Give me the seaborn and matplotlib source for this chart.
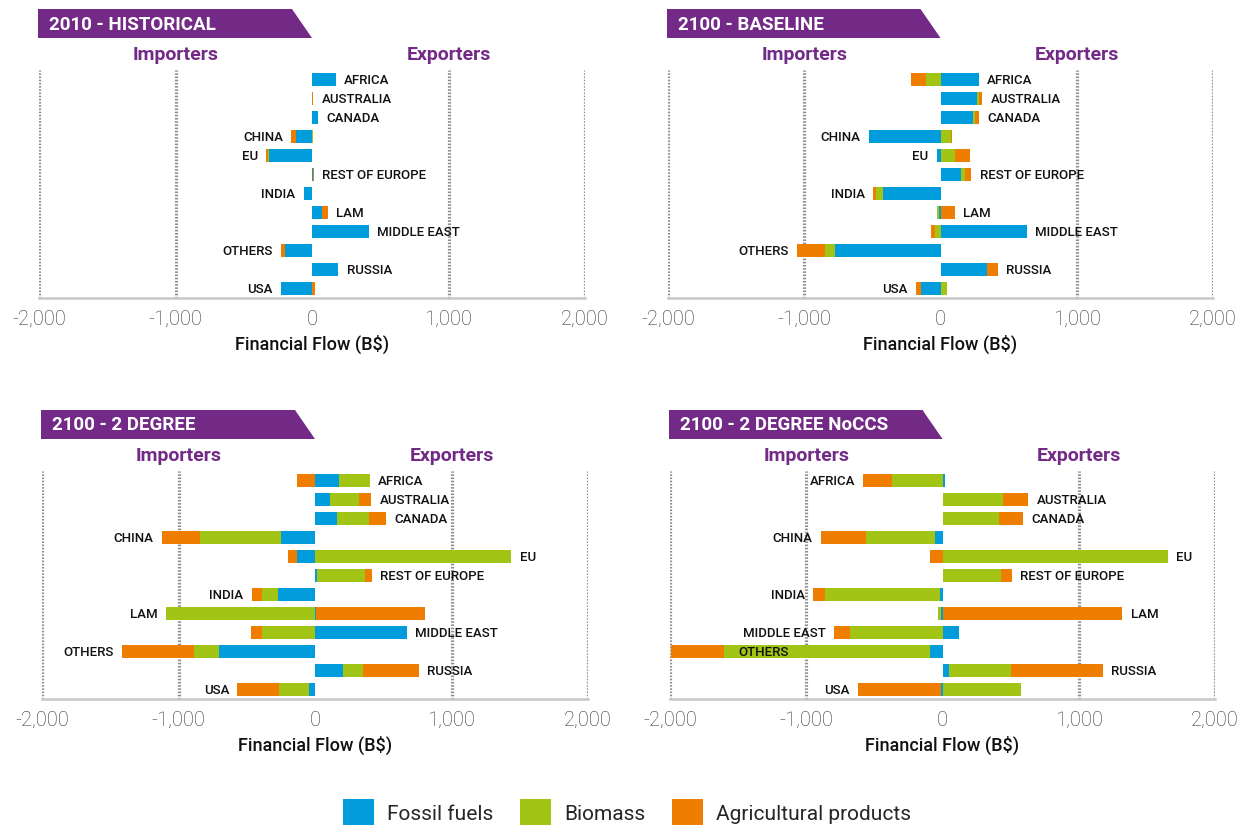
import matplotlib
matplotlib.use("Agg")
import matplotlib.pyplot as plt
from matplotlib.patches import Polygon, Patch
import numpy as np
import seaborn as sns

# regions, top to bottom
regions = ["AFRICA", "AUSTRALIA", "CANADA", "CHINA", "EU", "REST OF EUROPE",
           "INDIA", "LAM", "MIDDLE EAST", "OTHERS", "RUSSIA", "USA"]

# financial flows (B$), positive = exports, negative = imports
hist_fossil = [175, 0, 42, -115, -315, 8, -61, 76, 418, -198, 193, -230]
hist_biomass = [0, 0, 0, 4, -10, 0, 0, 0, 0, 0, 0, 0]
hist_agri = [0, 10, 0, -37, -10, 4, 0, 39, 0, -27, 0, 24]

base_fossil = [279, 269, 237, -528, -29, 154, -421, -12, 636, -773, 340, -142]
base_biomass = [-105, 17, 17, 78, 108, 27, -56, -15, -37, -73, 0, 49]
base_agri = [-110, 20, 32, 7, 105, 46, -15, 105, -32, -205, 81, -39]

deg2_fossil = [179, 113, 163, -247, -134, 16, -271, 10, 671, -702, 208, -45]
deg2_biomass = [221, 208, 231, -594, 1439, 352, -118, -1092, -387, -184, 145, -218]
deg2_agri = [-129, 92, 124, -279, -63, 50, -76, 797, -79, -529, 410, -305]

noccs_fossil = [21, 0, 0, -53, 0, 0, -21, -10, 118, -92, 45, -10]
noccs_biomass = [-371, 444, 413, -508, 1654, 431, -839, -26, -679, -1512, 460, 576]
noccs_agri = [-210, 184, 181, -331, -95, 76, -87, 1320, -116, -389, 671, -610]

titles = ["2010 - HISTORICAL", "2100 - BASELINE", "2100 - 2 DEGREE", "2100 - 2 DEGREE NoCCS"]
series_names = ["Fossil fuels", "Biomass", "Agricultural products"]

colors = ["#009cdc", "#a2c515", "#ef7d00"]
purple = "#722a86"

sns.set_theme(style="white")
plt.rcParams["font.family"] = ["Roboto", "DejaVu Sans"]

W, H = 1252, 829
fig = plt.figure(figsize=(W / 100, H / 100), dpi=100)

# axes boxes in pixels: left, top, right, bottom
boxes = [(39, 71, 585, 299), (668, 71, 1213, 299),
         (42, 472, 588, 700), (670, 472, 1215, 700)]

panels = [
    (hist_fossil, hist_biomass, hist_agri),
    (base_fossil, base_biomass, base_agri),
    (deg2_fossil, deg2_biomass, deg2_agri),
    (noccs_fossil, noccs_biomass, noccs_agri),
]

# labels that sit on the other side than their net flow
side_override = {(1, "EU"): "left"}


def draw_banner(text, box):
    l, t, r, b = box
    zero = (l + r) / 2
    y0 = t - 32
    y1 = t - 61
    pts = [(l - 1, y0), (l - 1, y1), (zero - 20, y1), (zero, y0)]
    pts = [(x / W, 1 - y / H) for x, y in pts]
    fig.patches.append(Polygon(pts, closed=True, transform=fig.transFigure,
                               facecolor=purple, edgecolor="none"))
    fig.text((l + 10) / W, 1 - (y0 + y1) / 2 / H, text, color="white",
             fontsize=13.5, fontweight="bold", va="center", ha="left")


for i, (box, (fos, bio, agr)) in enumerate(zip(boxes, panels)):
    l, t, r, b = box
    ax = fig.add_axes([l / W, 1 - b / H, (r - l) / W, (b - t) / H])
    data = np.array([fos, bio, agr], dtype=float)
    pos = np.clip(data, 0, None).cumsum(axis=0)
    neg = np.clip(data, None, 0).cumsum(axis=0)

    # overlay cumulative bars, outermost layer first
    for k in [2, 1, 0]:
        for stack in (pos, neg):
            sns.barplot(x=stack[k], y=regions, orient="y", color=colors[k],
                        saturation=1, width=0.68, linewidth=0, ax=ax)

    for v in [-2000, -1000, 1000, 2000]:
        ax.axvline(v, color="#8e8e8e", lw=2.3, ls=(0, (0.5, 0.5)), zorder=0)

    ax.set_xlim(-2000, 2000)
    ax.set_ylim(11.5, -0.5)
    ax.set_xticks([-2000, -1000, 0, 1000, 2000])
    ax.set_xticklabels([f"{v:,}" for v in [-2000, -1000, 0, 1000, 2000]])
    ax.tick_params(axis="x", length=0, pad=8, labelsize=14.5, labelcolor="#333333")
    for lbl in ax.get_xticklabels():
        lbl.set_fontweight("light")
    ax.set_yticks([])
    ax.set_ylabel("")
    ax.set_xlabel("Financial Flow (B$)", fontsize=13, fontweight="medium",
                  color="#111111", labelpad=4)
    for s in ["left", "right", "top"]:
        ax.spines[s].set_visible(False)
    ax.spines["bottom"].set_color("#c8c8c8")
    ax.spines["bottom"].set_linewidth(1.8)

    trans = ax.get_xaxis_transform()
    ax.text(-1000, 1.07, "Importers", transform=trans, ha="center", va="center",
            color=purple, fontsize=14, fontweight="bold")
    ax.text(1000, 1.07, "Exporters", transform=trans, ha="center", va="center",
            color=purple, fontsize=14, fontweight="bold")

    # region labels beside the bars
    for j, name in enumerate(regions):
        net = data[:, j].sum()
        side = side_override.get((i, name), "right" if net >= 0 else "left")
        if side == "right":
            ax.annotate(name, (pos[2, j], j), xytext=(6, 0), textcoords="offset points",
                        ha="left", va="center", fontsize=9.5, fontweight="medium",
                        color="#111111")
        elif neg[2, j] < -1900:
            ax.text(-1500, j, name, ha="left", va="center", fontsize=9.5,
                    fontweight="medium", color="#111111")
        else:
            ax.annotate(name, (neg[2, j], j), xytext=(-6, 0), textcoords="offset points",
                        ha="right", va="center", fontsize=9.5, fontweight="medium",
                        color="#111111")

    draw_banner(titles[i], box)

handles = [Patch(facecolor=c, edgecolor="none") for c in colors]
fig.legend(handles, series_names, loc="center", bbox_to_anchor=(627 / W, 1 - 813 / H),
           ncol=3, frameon=False, fontsize=15, handlelength=1.5, handleheight=1.5,
           columnspacing=1.3, handletextpad=0.6, borderaxespad=0)

fig.savefig("out.png", dpi=100)
